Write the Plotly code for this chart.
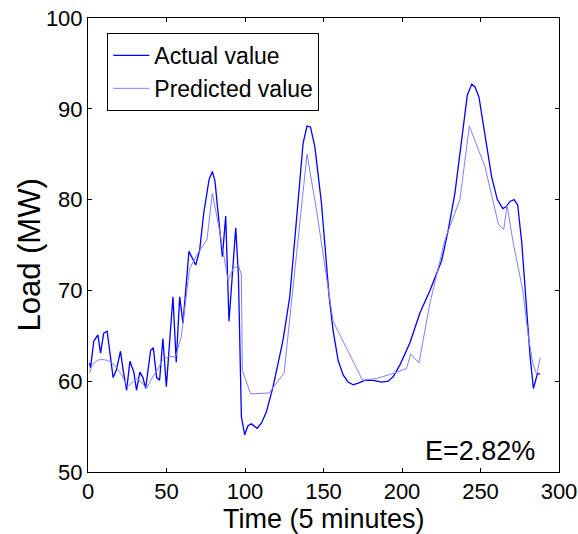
import plotly.graph_objects as go

# Actual load (key vertices)
actual_x = [1, 1.6, 3.7, 6.3, 8, 10, 12.2, 16, 18, 20.7, 22.4, 24.6, 26.7, 29.2, 30.9, 33, 35, 36.7,
            39.9, 41.6, 43.7, 45.6, 47.7, 49.9, 54.1, 56.2, 58.4, 60.5, 64.3, 68.6, 71.1, 73.7, 77.1,
            79.2, 80.9, 85.6, 87.7, 89.8, 94.1, 95.8, 97.7, 99.8, 101.9, 104.1, 107.7, 110.5, 113.6,
            117.9, 124.2, 128.5, 132.8, 137, 139.5, 141.7, 144.5, 148.7, 153.6, 156.1, 159.3, 162.5,
            165.7, 168.9, 172.1, 176.3, 181.6, 187, 191.2, 194.4, 198.7, 205, 211.4, 217.8, 225.3,
            229.5, 233.7, 238, 241.6, 244.4, 246.5, 249, 252.9, 257.1, 260.7, 264.2, 266.3, 268.8,
            271.4, 273.7, 276.3, 279, 281.6, 283.7, 286.2, 288]
actual_y = [62.0, 61.5, 64.4, 65.1, 63.1, 65.3, 65.5, 60.4, 61.2, 63.3, 61.2, 59.0, 62.2, 61.0, 59.0,
            61.0, 60.4, 59.2, 63.4, 63.7, 60.4, 60.1, 64.7, 59.4, 69.3, 62.1, 69.3, 66.4, 74.3, 72.8,
            74.4, 78.5, 82.2, 83.1, 82.0, 73.7, 78.2, 66.6, 76.9, 71.7, 56.1, 54.1, 55.1, 55.3, 54.8,
            55.4, 56.6, 59.4, 64.5, 69.3, 77.8, 86.2, 88.1, 88.0, 85.8, 79.6, 69.3, 65.6, 62.3, 60.7,
            59.9, 59.6, 59.8, 60.1, 60.1, 59.9, 60.0, 60.5, 61.8, 64.2, 67.5, 70.0, 73.3, 76.7, 80.7,
            86.9, 91.5, 92.7, 92.4, 91.3, 86.9, 82.5, 80.0, 79.0, 79.2, 79.8, 80.0, 79.4, 75.2, 68.2,
            62.7, 59.2, 60.8, 60.8]

# Predicted load (vertices)
pred_x = [1, 2.7, 5.9, 9, 12.2, 15.4, 18.6, 21.8, 25, 28.2, 31.4, 34.6, 37.3, 40.9, 44.1, 47.3, 51.1,
          55.8, 59.4, 64.7, 70, 75.8, 79.2, 83.9, 89.2, 92.4, 95.8, 97.7, 98.3, 103.6, 115.3, 124.9,
          139.5, 145.5, 156.1, 174.9, 183.8, 193.4, 202.9, 205.5, 210.8, 217.8, 227.4, 236.9, 242.9,
          252.9, 261.4, 264.8, 266.9, 270.9, 276.9, 280.5, 283.3, 285.8, 288]
pred_y = [60.9, 61.8, 62.3, 62.4, 62.3, 62.0, 61.4, 60.6, 59.4, 59.8, 60.3, 59.8, 59.2, 60.4, 61.2,
          62.3, 62.7, 62.7, 64.9, 72.4, 74.1, 75.6, 80.7, 76.5, 71.1, 72.4, 72.8, 71.7, 61.2, 58.6,
          58.7, 60.9, 85.0, 78.9, 66.6, 60.1, 60.3, 60.8, 61.4, 63.0, 62.0, 68.6, 75.6, 80.0, 88.1,
          83.6, 77.3, 76.7, 79.4, 75.2, 70.0, 64.9, 62.0, 60.7, 62.6]

x_ticks = [0, 50, 100, 150, 200, 250, 300]
y_ticks = [50, 60, 70, 80, 90, 100]
x_title = "Time (5 minutes)"
y_title = "Load (MW)"
error_label = "E=2.82%"

FONT = "Arial, Liberation Sans, sans-serif"

fig = go.Figure()
fig.add_trace(go.Scatter(x=actual_x, y=actual_y, mode="lines", name="Actual value",
                         line=dict(color="#0000FF", width=1.3)))
fig.add_trace(go.Scatter(x=pred_x, y=pred_y, mode="lines", name="Predicted value",
                         line=dict(color="#8080FF", width=1)))

axis_common = dict(showline=True, linecolor="black", linewidth=1, mirror="ticks",
                   ticks="inside", ticklen=4, tickcolor="black", showgrid=False, zeroline=False,
                   automargin=False, ticklabeloverflow="allow",
                   tickfont=dict(family=FONT, size=22, color="black"))

fig.update_xaxes(range=[0, 300], tickvals=x_ticks, ticktext=[str(v) for v in x_ticks],
                 **axis_common)
fig.update_yaxes(range=[50, 100], tickvals=y_ticks, ticktext=[str(v) for v in y_ticks],
                 **axis_common)

# Axis titles as annotations for precise placement
fig.add_annotation(x=0.5, y=-0.104, xref="paper", yref="paper", text=x_title, showarrow=False,
                   xanchor="center", yanchor="middle",
                   font=dict(family=FONT, size=27, color="black"))
fig.add_annotation(x=-0.125, y=0.477, xref="paper", yref="paper", text=y_title, showarrow=False,
                   xanchor="center", yanchor="middle", textangle=-90,
                   font=dict(family=FONT, size=31, color="black"))

fig.add_annotation(x=286, y=52.3, xref="x", yref="y", text=error_label, showarrow=False,
                   xanchor="right", yanchor="middle",
                   font=dict(family=FONT, size=27, color="black"))

fig.update_layout(
    width=578, height=534,
    margin=dict(l=88, r=19, t=18, b=62),
    paper_bgcolor="white", plot_bgcolor="white",
    showlegend=True,
    legend=dict(x=0.041, y=0.967, xanchor="left", yanchor="top",
                bgcolor="white", bordercolor="black", borderwidth=1,
                font=dict(family=FONT, size=23, color="black"),
                tracegroupgap=0, itemwidth=36),
)

# Remove the default page margin so the figure fills the window exactly
fig.write_html("out.html",
               config={"displayModeBar": False},
               post_script="document.body.style.margin='0';"
                           "document.documentElement.style.margin='0';"
                           "document.body.style.overflow='hidden';")
